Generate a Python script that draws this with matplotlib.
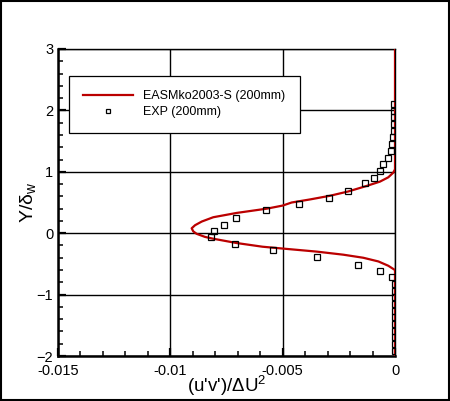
import numpy as np
import matplotlib
matplotlib.use('Agg')
import matplotlib.pyplot as plt
from matplotlib.patches import Rectangle
from matplotlib.ticker import MultipleLocator

# model curve (EASMko2003-S, 200mm)
model_y = [3.0, 1.04, 0.985, 0.91, 0.84, 0.77, 0.68, 0.61, 0.55, 0.50, 0.45, 0.40,
           0.33, 0.26, 0.19, 0.13, 0.08, 0.03, -0.01, -0.06, -0.09, -0.16, -0.22,
           -0.25, -0.30, -0.35, -0.40, -0.46, -0.53, -0.60, -2.0]
model_uv = [0.0, 0.0, -0.00008, -0.0003, -0.00067, -0.00126, -0.00208, -0.00289,
            -0.00378, -0.0046, -0.0050, -0.0057, -0.00705, -0.00809, -0.0086,
            -0.0089, -0.00905, -0.00898, -0.00883, -0.00846, -0.00809, -0.00705,
            -0.0059, -0.0050, -0.00348, -0.0023, -0.00141, -0.00074, -0.0003, 0.0, 0.0]

# experiment (200mm)
exp_y = [2.10, 1.99, 1.89, 1.78, 1.67, 1.57, 1.45, 1.34, 1.23, 1.13, 1.02, 0.90,
         0.81, 0.69, 0.58, 0.48, 0.37, 0.25, 0.14, 0.04, -0.07, -0.18, -0.28,
         -0.39, -0.51, -0.61, -0.72, -0.83, -0.94, -1.04, -1.16, -1.27, -1.37,
         -1.48, -1.59, -1.69, -1.80, -1.92]
exp_uv = [-0.00003, -0.00003, -0.00003, -0.00003, -0.00003, -0.00007, -0.00012,
          -0.00016, -0.0003, -0.00052, -0.00065, -0.00092, -0.00132, -0.00208,
          -0.00292, -0.00426, -0.00573, -0.00706, -0.0076, -0.00804, -0.00818,
          -0.00711, -0.00542, -0.00346, -0.00163, -0.00065, -0.00012, 0.0, 0.0,
          0.0, 0.0, 0.0, 0.0, 0.0, 0.0, 0.0, 0.0, 0.0]

plt.rcParams['font.family'] = ['Liberation Sans', 'DejaVu Sans']
plt.rcParams['mathtext.fontset'] = 'custom'
plt.rcParams['mathtext.rm'] = 'Liberation Sans'
plt.rcParams['mathtext.it'] = 'Liberation Sans'

fig = plt.figure(figsize=(4.5, 4.01), dpi=100)
ax = fig.add_axes([58/450, 45/401, 337/450, 307/401])

ax.plot(model_uv, model_y, color='#bb0000', lw=1.6, zorder=4, label='EASMko2003-S (200mm)')
ax.plot(exp_uv, exp_y, ls='none', marker='s', ms=4.2, mfc='none', mec='black',
        mew=0.9, zorder=5, label='EXP (200mm)')

ax.set_xlim(-0.015, 0)
ax.set_ylim(-2, 3)
ax.set_xticks([-0.015, -0.01, -0.005, 0])
ax.set_xticklabels(['-0.015', '-0.01', '-0.005', '0'])
ax.set_yticks([-2, -1, 0, 1, 2, 3])
ax.xaxis.set_minor_locator(MultipleLocator(0.001))
ax.yaxis.set_minor_locator(MultipleLocator(0.2))
ax.grid(True, which='major', color='black', lw=1.0)
ax.set_axisbelow(True)

ax.tick_params(which='both', direction='in', top=False, right=False, labelsize=10.5)
ax.tick_params(which='major', length=6, width=1.6)
ax.tick_params(which='minor', length=3.5, width=1.1)
ax.tick_params(axis='x', which='major', pad=6)
ax.tick_params(axis='y', which='major', pad=3.5)
for s in ['left', 'bottom']:
    ax.spines[s].set_linewidth(1.8)
for s in ['top', 'right']:
    ax.spines[s].set_linewidth(1.0)

ax.set_xlabel("(u'v')/$\\Delta$U$^2$", fontsize=13.5)
ax.xaxis.label.set_va('baseline')
ax.xaxis.set_label_coords(0.5, -0.117)
ax.set_ylabel('Y/$\\delta_w$', fontsize=14)
ax.yaxis.set_label_coords(-0.058, 0.5)

leg = ax.legend(loc='upper left', bbox_to_anchor=(0.0326, 0.912), fontsize=9,
                frameon=True, fancybox=False, edgecolor='black', framealpha=1,
                handlelength=4.0, handletextpad=0.8, borderpad=1.15,
                labelspacing=0.3, borderaxespad=0, numpoints=1, markerscale=0.85)
leg.get_frame().set_linewidth(0.9)

fig.patches.append(Rectangle((0.002, 0.002), 0.995, 0.995, transform=fig.transFigure,
                             fill=False, edgecolor='black', lw=1.5))

fig.savefig('out.png', dpi=100)
